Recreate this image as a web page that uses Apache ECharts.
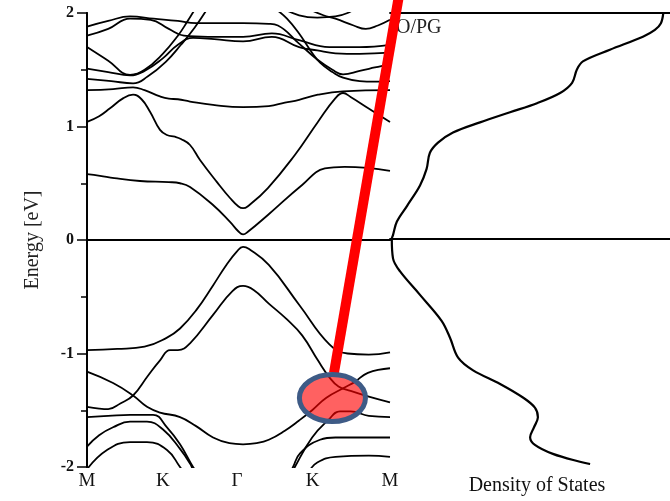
<!DOCTYPE html>
<html>
<head>
<meta charset="utf-8">
<script src="https://cdn.jsdelivr.net/npm/echarts@6/dist/echarts.min.js"></script>
<style>
  html, body { margin: 0; padding: 0; background: #fff; }
  #chart { width: 670px; height: 501px; }
</style>
</head>
<body>
<div id="chart"></div>
<script>
// High-symmetry points along the k-path (path coordinate 0..1)
const kTickPos = [0, 0.25, 0.495, 0.745, 1.0];
const kTickLabels = ['M', 'K', 'Γ', 'K', 'M'];
const energyTicks = [-2, -1, 0, 1, 2];

// Band energies [k, E (eV)] along M-K-Γ-K-M
const bandC1 = [[0,0.58],[0.043,0.565],[0.09,0.545],[0.175,0.52],[0.27,0.51],[0.307,0.50],[0.34,0.467],[0.416,0.308],[0.472,0.159],[0.50,0.075],[0.515,0.05],[0.53,0.07],[0.597,0.22],[0.71,0.485],[0.785,0.63],[0.85,0.645],[0.927,0.635],[1.0,0.61]];
const bandC2 = [[0,1.04],[0.04,1.09],[0.076,1.16],[0.12,1.25],[0.152,1.28],[0.18,1.24],[0.208,1.13],[0.241,0.97],[0.264,0.925],[0.29,0.91],[0.31,0.89],[0.34,0.837],[0.373,0.705],[0.429,0.51],[0.472,0.37],[0.50,0.295],[0.515,0.28],[0.53,0.295],[0.597,0.458],[0.686,0.749],[0.762,1.04],[0.82,1.25],[0.845,1.295],[0.87,1.26],[0.927,1.163],[1.0,1.04]];
const bandC3 = [[0,1.32],[0.086,1.33],[0.152,1.345],[0.19,1.32],[0.241,1.265],[0.27,1.245],[0.30,1.24],[0.34,1.22],[0.416,1.19],[0.515,1.17],[0.60,1.18],[0.653,1.21],[0.70,1.235],[0.762,1.28],[0.845,1.31],[1.0,1.32]];
const bandA1 = [[0,1.88],[0.07,1.93],[0.142,1.97],[0.22,1.95],[0.30,1.93],[0.36,1.91],[0.45,1.91],[0.515,1.91],[0.60,1.905],[0.63,1.89],[0.70,1.73],[0.76,1.59],[0.81,1.50],[0.845,1.46],[0.90,1.49],[0.95,1.52],[1.0,1.55]];
const bandA2 = [[0,1.80],[0.07,1.86],[0.142,1.95],[0.21,1.94],[0.27,1.86],[0.32,1.80],[0.40,1.79],[0.515,1.79],[0.61,1.82],[0.70,1.76],[0.80,1.70],[0.90,1.70],[1.0,1.72]];
const bandD1 = [[0,1.70],[0.07,1.58],[0.142,1.455],[0.19,1.50],[0.25,1.64],[0.30,1.80],[0.33,1.92],[0.36,2.05]];
const bandD2 = [[0,1.51],[0.07,1.48],[0.142,1.45],[0.19,1.49],[0.25,1.60],[0.30,1.72],[0.35,1.78],[0.42,1.77],[0.515,1.75],[0.61,1.79],[0.70,1.70],[0.76,1.67],[0.82,1.645],[0.90,1.64],[1.0,1.65]];
const bandU1 = [[0,1.42],[0.08,1.40],[0.152,1.38],[0.20,1.44],[0.26,1.57],[0.31,1.72],[0.355,1.87],[0.40,2.05]];
const bandRB = [[0.625,2.03],[0.66,1.95],[0.70,1.82],[0.74,1.66],[0.77,1.56],[0.81,1.48],[0.845,1.43],[0.90,1.40],[0.95,1.395],[1.0,1.40]];
const bandRE = [[0.72,2.05],[0.78,1.98],[0.82,1.95],[0.88,1.89],[0.92,1.86],[0.96,1.89],[1.0,1.94]];
const bandRF = [[0.64,2.05],[0.70,1.98],[0.76,1.96],[0.82,1.97],[0.86,2.0],[0.89,2.05]];

const bandV1 = [[0,-0.97],[0.10,-0.96],[0.19,-0.94],[0.264,-0.86],[0.307,-0.78],[0.36,-0.62],[0.416,-0.40],[0.46,-0.22],[0.495,-0.10],[0.515,-0.06],[0.535,-0.08],[0.60,-0.22],[0.70,-0.57],[0.80,-0.92],[0.86,-1.0],[0.93,-1.01],[1.0,-0.99]];
const bandV2 = [[0,-1.47],[0.04,-1.485],[0.07,-1.49],[0.11,-1.44],[0.152,-1.37],[0.20,-1.20],[0.241,-1.06],[0.274,-0.97],[0.30,-0.97],[0.34,-0.91],[0.416,-0.66],[0.48,-0.45],[0.515,-0.405],[0.55,-0.44],[0.60,-0.56],[0.66,-0.70],[0.71,-0.84],[0.762,-1.06],[0.80,-1.21],[0.83,-1.29],[0.87,-1.33],[0.93,-1.38],[1.0,-1.43]];
const bandU = [[0,-1.16],[0.086,-1.26],[0.152,-1.37],[0.198,-1.47],[0.241,-1.52],[0.307,-1.56],[0.36,-1.64],[0.416,-1.74],[0.47,-1.79],[0.515,-1.80],[0.56,-1.79],[0.60,-1.76],[0.653,-1.68],[0.70,-1.59],[0.743,-1.50],[0.79,-1.39],[0.85,-1.30],[0.884,-1.25],[0.927,-1.17],[1.0,-1.13]];
const bandV4 = [[0,-1.56],[0.07,-1.55],[0.142,-1.54],[0.218,-1.54],[0.264,-1.65],[0.307,-1.80],[0.35,-2.0],[0.36,-2.03]];
const bandV5 = [[0,-1.82],[0.04,-1.72],[0.086,-1.65],[0.142,-1.60],[0.198,-1.60],[0.251,-1.67],[0.307,-1.84],[0.34,-1.97],[0.35,-2.03]];
const bandV6 = [[0,-2.02],[0.066,-1.85],[0.142,-1.78],[0.198,-1.78],[0.264,-1.85],[0.307,-2.0],[0.315,-2.03]];
const bandV7 = [[0.683,-2.03],[0.686,-2.0],[0.743,-1.74],[0.795,-1.59],[0.835,-1.51],[0.87,-1.51],[0.93,-1.55],[1.0,-1.56]];
const bandV8 = [[0.675,-2.03],[0.68,-2.0],[0.703,-1.88],[0.769,-1.76],[0.82,-1.74],[0.88,-1.74],[1.0,-1.74]];
const bandV9 = [[0.735,-2.03],[0.76,-1.96],[0.82,-1.91],[0.93,-1.90],[1.0,-1.91]];

const bands = [bandC1, bandC2, bandC3, bandA1, bandA2, bandD1, bandD2, bandU1, bandRB, bandRE, bandRF,
               bandV1, bandV2, bandU, bandV4, bandV5, bandV6, bandV7, bandV8, bandV9];

// Total density of states (arb. units) versus energy (eV)
const dosEnergy = [2.0,1.91,1.85,1.79,1.674,1.571,1.498,1.38,1.29,1.20,1.12,1.03,0.94,0.85,0.76,0.617,0.47,0.29,0.15,0.03,0,-0.176,-0.29,-0.50,-0.73,-0.88,-1.057,-1.17,-1.29,-1.41,-1.50,-1.586,-1.674,-1.762,-1.83,-1.91,-1.98,-2.0];
const dosValue  = [9.11,9.03,8.83,8.43,7.33,6.43,6.23,6.07,5.67,4.9,4.0,3.0,2.1,1.6,1.33,1.22,1.0,0.57,0.23,0.1,0.06,0.1,0.33,1.0,1.72,2.0,2.27,2.77,3.67,4.43,4.83,4.93,4.8,4.67,4.83,5.43,6.33,6.67];

// Highlight annotation, in band-plot data coordinates
const pointerStart = [1.03, 2.16];
const pointerEnd = [0.815, -1.172];
const highlightCenter = [0.81, -1.392];
const highlightRadius = [0.109, 0.207];

const FONT = "'Liberation Serif', 'Times New Roman', serif";
const BLACK = '#000';
const axisLine = { show: true, lineStyle: { color: BLACK, width: 1.8 } };

const chart = echarts.init(document.getElementById('chart'), null, { renderer: 'canvas' });

const series = bands.map((b, i) => ({
  type: 'line',
  xAxisIndex: 0,
  yAxisIndex: 0,
  data: b,
  showSymbol: false,
  smooth: 0.45,
  silent: true,
  lineStyle: { color: '#000', width: 1.8 },
  markLine: i === 0 ? {
    silent: true,
    symbol: 'none',
    label: { show: false },
    lineStyle: { color: BLACK, width: 1.6, type: 'solid' },
    data: [{ yAxis: 0 }]
  } : undefined
}));

series.push({
  type: 'line',
  xAxisIndex: 2,
  yAxisIndex: 2,
  data: dosValue.map((v, i) => [v, dosEnergy[i]]),
  showSymbol: false,
  smooth: 0.35,
  silent: true,
  lineStyle: { color: '#000', width: 2.2 },
  markLine: {
    silent: true,
    symbol: 'none',
    label: { show: false },
    lineStyle: { color: BLACK, width: 1.6, type: 'solid' },
    data: [{ yAxis: 0 }]
  }
});

chart.setOption({
  animation: false,
  backgroundColor: '#fff',
  grid: [
    { left: 87, top: 13, width: 303, height: 454 },
    { left: 390, top: 13, width: 280, height: 454 }
  ],
  xAxis: [
    {
      gridIndex: 0, type: 'value', position: 'bottom', min: 0, max: 1,
      axisLine,
      axisTick: { show: false },
      splitLine: { show: false },
      axisLabel: {
        customValues: kTickPos,
        showMinLabel: true, showMaxLabel: true,
        margin: 5,
        color: '#111', fontFamily: FONT, fontSize: 19,
        formatter: v => {
          const i = kTickPos.findIndex(p => Math.abs(p - v) < 1e-6);
          return i >= 0 ? kTickLabels[i] : '';
        }
      }
    },
    {
      gridIndex: 0, type: 'value', position: 'top', min: 0, max: 1,
      axisLine, axisTick: { show: false }, axisLabel: { show: false }, splitLine: { show: false }
    },
    {
      gridIndex: 1, type: 'value', position: 'bottom', min: 0, max: 9.333,
      axisLine, axisTick: { show: false }, axisLabel: { show: false }, splitLine: { show: false },
      name: 'Density of States', nameLocation: 'middle', nameGap: 12,
      nameTextStyle: { color: '#111', fontFamily: FONT, fontSize: 20, verticalAlign: 'top', padding: [0, 0, 0, 14] }
    },
    {
      gridIndex: 1, type: 'value', position: 'top', min: 0, max: 9.333,
      axisLine, axisTick: { show: false }, axisLabel: { show: false }, splitLine: { show: false }
    }
  ],
  yAxis: [
    {
      gridIndex: 0, type: 'value', position: 'left', min: -2, max: 2, interval: 1,
      axisLine,
      axisTick: { show: true, inside: false, length: 10, lineStyle: { color: BLACK, width: 1.5 } },
      minorTick: { show: true, splitNumber: 2, length: 5, lineStyle: { color: BLACK, width: 1.5 } },
      splitLine: { show: false },
      axisLabel: {
        customValues: energyTicks,
        margin: 13, color: '#111', fontFamily: FONT, fontSize: 16, fontWeight: 'bold',
        formatter: v => String(v)
      },
      name: 'Energy [eV]', nameLocation: 'middle', nameGap: 44, nameRotate: 90,
      nameTextStyle: { color: '#222', fontFamily: FONT, fontSize: 20 }
    },
    {
      gridIndex: 0, type: 'value', position: 'right', min: -2, max: 2, interval: 1,
      axisLine,
      axisTick: { show: true, inside: true, length: 7, lineStyle: { color: BLACK, width: 1.5 } },
      minorTick: { show: true, splitNumber: 2, length: 6, lineStyle: { color: BLACK, width: 1.5 } },
      splitLine: { show: false },
      axisLabel: { show: false }
    },
    {
      gridIndex: 1, type: 'value', min: -2, max: 2, show: false
    }
  ],
  series
});

// Place the highlight annotation from data coordinates
const px = p => chart.convertToPixel({ xAxisIndex: 0, yAxisIndex: 0 }, p);
const a = px(pointerStart), b = px(pointerEnd);
const c = px(highlightCenter);
const cx2 = px([highlightCenter[0] + highlightRadius[0], highlightCenter[1] - highlightRadius[1]]);
const dos0 = chart.convertToPixel({ xAxisIndex: 2, yAxisIndex: 2 }, [0.2, 1.87]);

chart.setOption({
  graphic: [
    {
      type: 'text', z: 10,
      x: dos0[0], y: dos0[1],
      style: { text: 'O/PG', fill: '#222', font: '20px ' + FONT, textVerticalAlign: 'middle' }
    },
    {
      type: 'line', z: 20,
      shape: { x1: a[0], y1: a[1], x2: b[0], y2: b[1] },
      style: { stroke: '#ff0000', lineWidth: 10 }
    },
    {
      type: 'ellipse', z: 21,
      shape: { cx: c[0], cy: c[1], rx: Math.abs(cx2[0] - c[0]), ry: Math.abs(cx2[1] - c[1]) },
      style: { fill: 'rgba(255,0,0,0.62)', stroke: '#3e5b86', lineWidth: 5 }
    }
  ]
});
</script>
</body>
</html>
